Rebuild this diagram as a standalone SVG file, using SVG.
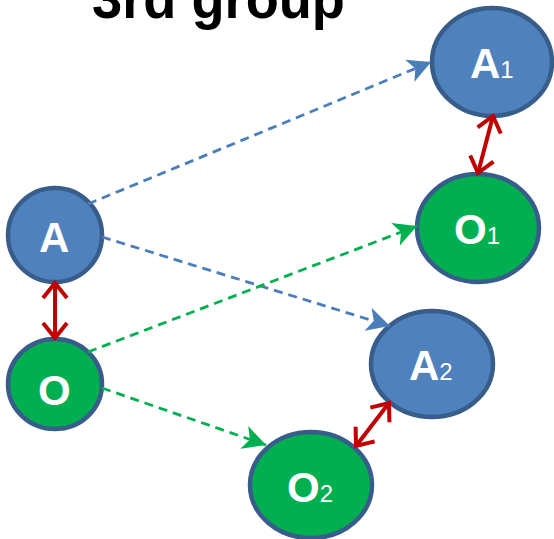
<svg xmlns="http://www.w3.org/2000/svg" width="554" height="539" viewBox="0 0 554 539">
<style>
.a{fill:#4F81BD;stroke:#385D8A;stroke-width:4.5}
.o{fill:#00B050;stroke:#385D8A;stroke-width:4.5}
.lb{font-family:"Liberation Sans",Arial,sans-serif;fill:#fff;text-anchor:start}
.big{font-weight:bold;font-size:42px}
.sub{font-size:24px}
.db{fill:none;stroke:#4A7EBB;stroke-width:2.8;stroke-dasharray:9 6}
.dg{fill:none;stroke:#00B050;stroke-width:2.8;stroke-dasharray:9 6}
.r{fill:none;stroke:#C00000;stroke-width:4}
</style>
<defs>
<marker id="hb" markerUnits="userSpaceOnUse" markerWidth="24" markerHeight="26" refX="23" refY="12" orient="auto" overflow="visible">
<path d="M0,0 L23,12 L0,24 L6,12 Z" fill="#4A7EBB"/>
</marker>
<marker id="hg" markerUnits="userSpaceOnUse" markerWidth="24" markerHeight="26" refX="23" refY="12" orient="auto" overflow="visible">
<path d="M0,0 L23,12 L0,24 L6,12 Z" fill="#00B050"/>
</marker>
<marker id="hr" markerUnits="userSpaceOnUse" markerWidth="18" markerHeight="24" refX="16" refY="12" orient="auto-start-reverse" overflow="visible">
<path d="M1,0 L16,12 L1,24" fill="none" stroke="#C00000" stroke-width="4"/>
</marker>
</defs>
<text x="92" y="18" font-family="'Liberation Sans',Arial,sans-serif" font-weight="bold" font-size="58" textLength="253" lengthAdjust="spacingAndGlyphs">3rd group</text>
<g id="node-A"><circle class="a" cx="55" cy="235" r="47"/><text class="lb big" x="39" y="252">A</text></g>
<g id="node-O"><ellipse class="o" cx="55" cy="384" rx="47" ry="45"/><text class="lb big" x="38" y="405">O</text></g>
<g id="node-A1"><ellipse class="a" cx="492" cy="62" rx="60" ry="54"/><text class="lb" x="470" y="78"><tspan class="big">A</tspan><tspan class="sub">1</tspan></text></g>
<g id="node-O1"><ellipse class="o" cx="478" cy="228" rx="61" ry="54"/><text class="lb" x="454" y="244"><tspan class="big">O</tspan><tspan class="sub">1</tspan></text></g>
<g id="node-A2"><ellipse class="a" cx="432" cy="364" rx="61" ry="53"/><text class="lb" x="409" y="380"><tspan class="big">A</tspan><tspan class="sub">2</tspan></text></g>
<g id="node-O2"><ellipse class="o" cx="311" cy="485" rx="61" ry="53"/><text class="lb" x="287" y="502"><tspan class="big">O</tspan><tspan class="sub">2</tspan></text></g>
<g id="connectors">
<line class="db" x1="88" y1="204" x2="431" y2="62" marker-end="url(#hb)"/>
<line class="db" x1="102" y1="237" x2="390" y2="326" marker-end="url(#hb)"/>
<line class="dg" x1="88" y1="352" x2="417" y2="226" marker-end="url(#hg)"/>
<line class="dg" x1="102" y1="388" x2="266" y2="445" marker-end="url(#hg)"/>
<line class="r" x1="55" y1="283" x2="55" y2="338" marker-start="url(#hr)" marker-end="url(#hr)"/>
<line class="r" x1="493" y1="116" x2="478" y2="173" marker-start="url(#hr)" marker-end="url(#hr)"/>
<line class="r" x1="389" y1="403" x2="356" y2="446" marker-start="url(#hr)" marker-end="url(#hr)"/>
</g>
</svg>
